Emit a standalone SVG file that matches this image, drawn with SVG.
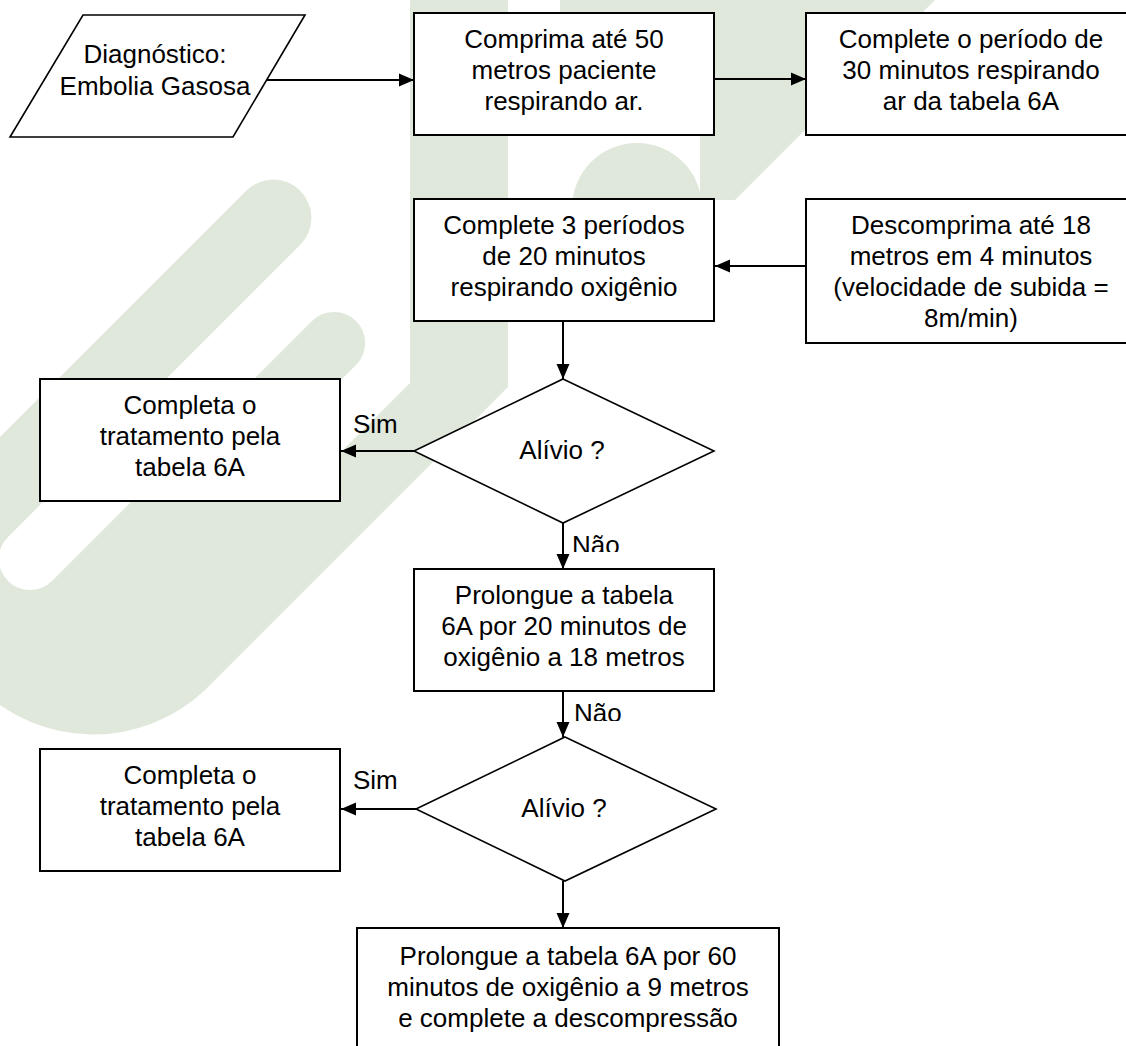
<svg xmlns="http://www.w3.org/2000/svg" width="1126" height="1046" viewBox="0 0 1126 1046">
  <defs>
    <style>
      .wm { fill: #dfe8da; stroke: none; }
      .box { fill: #ffffff; stroke: #000000; stroke-width: 2; }
      .shape { fill: #ffffff; stroke: #000000; stroke-width: 1.6; }
      .conn { fill: none; stroke: #000000; stroke-width: 2; marker-end: url(#arrow); }
      .t { font-family: "Liberation Sans", Arial, sans-serif; font-size: 26px; fill: #000000; text-anchor: middle; }
      .lbl { font-family: "Liberation Sans", Arial, sans-serif; font-size: 26px; fill: #000000; text-anchor: start; }
    </style>
    <marker id="arrow" markerUnits="userSpaceOnUse" markerWidth="16" markerHeight="14" refX="15" refY="7" orient="auto">
      <path d="M0,0.5 L15,7 L0,13.5 Z" fill="#000000"/>
    </marker>
    <clipPath id="clipNao1"><rect x="560" y="520" width="80" height="32"/></clipPath>
    <clipPath id="clipNao2"><rect x="560" y="690" width="80" height="31"/></clipPath>
  </defs>

  <rect x="0" y="0" width="1126" height="1046" fill="#ffffff"/>

  <g id="watermark">
    <path class="wm" d="M 410 0 L 508 0 L 508 387 L 204.5 690.5 A 162 162 0 0 1 -24.5 461.5 L 247 190 A 38.2 38.2 0 0 1 301 244 L 8 537 A 31.1 31.1 0 0 0 52 581 L 312 321 A 31.1 31.1 0 0 1 356 365 L 282 439 A 25.5 25.5 0 0 0 318 475 L 410 383 Z"/>
    <path class="wm" d="M 572 320 L 572 208 A 65 65 0 0 1 702 208 L 702 320 Z"/>
    <path class="wm" d="M 560 0 L 935 0 L 735 200 L 700 200 L 700 135 L 560 135 Z"/>
  </g>

  <g id="connectors">
    <line class="conn" x1="267" y1="80" x2="414" y2="80"/>
    <line class="conn" x1="714" y1="79" x2="806" y2="79"/>
    <line class="conn" x1="806" y1="266" x2="715" y2="266"/>
    <line class="conn" x1="563" y1="321" x2="563" y2="379"/>
    <line class="conn" x1="414" y1="451" x2="341" y2="451"/>
    <line class="conn" x1="563" y1="523" x2="563" y2="569"/>
    <line class="conn" x1="563" y1="691" x2="563" y2="737"/>
    <line class="conn" x1="416" y1="809" x2="341" y2="809"/>
    <line class="conn" x1="563" y1="881" x2="563" y2="928"/>
  </g>

  <g id="n-diagnostico">
    <polygon class="shape" points="83,15 305,15 233,137 10,137"/>
    <text class="t" x="155" y="63">Diagnóstico:</text>
    <text class="t" x="155" y="95">Embolia Gasosa</text>
  </g>

  <g id="n-comprima">
    <rect class="box" x="414" y="13" width="300" height="122"/>
    <text class="t" x="564" y="48">Comprima até 50</text>
    <text class="t" x="564" y="79">metros paciente</text>
    <text class="t" x="564" y="110">respirando ar.</text>
  </g>

  <g id="n-complete30">
    <rect class="box" x="806" y="13" width="330" height="122"/>
    <text class="t" x="971" y="48">Complete o período de</text>
    <text class="t" x="971" y="79">30 minutos respirando</text>
    <text class="t" x="971" y="110">ar da tabela 6A</text>
  </g>

  <g id="n-descomprima">
    <rect class="box" x="806" y="199" width="330" height="144"/>
    <text class="t" x="971" y="234">Descomprima até 18</text>
    <text class="t" x="971" y="265">metros em 4 minutos</text>
    <text class="t" x="971" y="296">(velocidade de subida =</text>
    <text class="t" x="971" y="327">8m/min)</text>
  </g>

  <g id="n-complete3">
    <rect class="box" x="414" y="199" width="300" height="122"/>
    <text class="t" x="564" y="234">Complete 3 períodos</text>
    <text class="t" x="564" y="265">de 20 minutos</text>
    <text class="t" x="564" y="296">respirando oxigênio</text>
  </g>

  <g id="n-alivio1">
    <polygon class="shape" points="563,379 714,451 563,523 414,451"/>
    <text class="t" x="562" y="459">Alívio ?</text>
  </g>

  <g id="n-completa1">
    <rect class="box" x="40" y="379" width="300" height="122"/>
    <text class="t" x="190" y="414">Completa o</text>
    <text class="t" x="190" y="445">tratamento pela</text>
    <text class="t" x="190" y="476">tabela 6A</text>
  </g>

  <g id="n-prolongue20">
    <rect class="box" x="414" y="569" width="300" height="122"/>
    <text class="t" x="564" y="604">Prolongue a tabela</text>
    <text class="t" x="564" y="635">6A por 20 minutos de</text>
    <text class="t" x="564" y="666">oxigênio a 18 metros</text>
  </g>

  <g id="n-alivio2">
    <polygon class="shape" points="565,737 716,809 565,881 416,809"/>
    <text class="t" x="564" y="817">Alívio ?</text>
  </g>

  <g id="n-completa2">
    <rect class="box" x="40" y="749" width="300" height="122"/>
    <text class="t" x="190" y="784">Completa o</text>
    <text class="t" x="190" y="815">tratamento pela</text>
    <text class="t" x="190" y="846">tabela 6A</text>
  </g>

  <g id="n-prolongue60">
    <rect class="box" x="357" y="928" width="422" height="124"/>
    <text class="t" x="568" y="965">Prolongue a tabela 6A por 60</text>
    <text class="t" x="568" y="996">minutos de oxigênio a 9 metros</text>
    <text class="t" x="568" y="1027">e complete a descompressão</text>
  </g>

  <g id="labels">
    <text class="lbl" x="353" y="433">Sim</text>
    <text class="lbl" x="353" y="789">Sim</text>
    <text class="lbl" x="572" y="554" clip-path="url(#clipNao1)">Não</text>
    <text class="lbl" x="574" y="722" clip-path="url(#clipNao2)">Não</text>
  </g>
</svg>
